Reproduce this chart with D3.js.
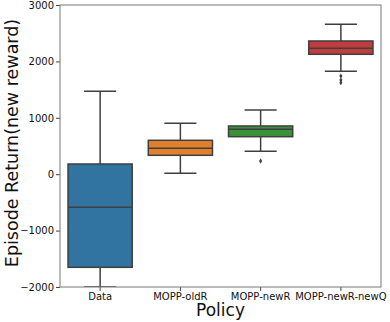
<!DOCTYPE html>
<html>
<head>
<meta charset="utf-8">
<script src="https://cdn.jsdelivr.net/npm/d3@7"></script>
<style>
  body { margin: 0; background: #fff; }
  text { font-family: "DejaVu Sans", sans-serif; }
</style>
</head>
<body>
<div id="chart"></div>
<script>
// box statistics
var categories = ["Data", "MOPP-oldR", "MOPP-newR", "MOPP-newR-newQ"];
var whiskerLow = [-2000, 16, 406, 1824];
var q1 = [-1651, 335, 665, 2126];
var median = [-587, 459, 796, 2232];
var q3 = [181, 601, 855, 2362];
var whiskerHigh = [1470, 902, 1138, 2658];
var outliers = [[], [], [234], [1741, 1670, 1622]];
var colors = ["#3274a1", "#e1812c", "#3a923a", "#c03d3e"];
var yTicks = [-2000, -1000, 0, 1000, 2000, 3000];

var W = 390, H = 322;
var margin = {top: 5, right: 9, bottom: 35, left: 60};
var width = W - margin.left - margin.right;
var height = H - margin.top - margin.bottom;
var lineColor = "#3f3f3f";

var svg = d3.select("#chart").append("svg")
  .attr("width", W).attr("height", H);

var g = svg.append("g")
  .attr("transform", "translate(" + margin.left + "," + margin.top + ")");

var x = d3.scaleBand().domain(categories).range([0, width]).paddingInner(0).paddingOuter(0);
var y = d3.scaleLinear().domain([-2000, 3000]).range([height, 0]);

g.append("clipPath").attr("id", "clip")
  .append("rect").attr("width", width).attr("height", height);

var boxes = g.append("g").attr("clip-path", "url(#clip)")
  .selectAll("g.box")
  .data(categories.map(function (c, i) {
    return {cat: c, lo: whiskerLow[i], q1: q1[i], med: median[i], q3: q3[i], hi: whiskerHigh[i], out: outliers[i], color: colors[i]};
  }))
  .enter().append("g").attr("class", "box")
  .attr("transform", function (d) { return "translate(" + (x(d.cat) + x.bandwidth() / 2) + ",0)"; });

var bw = x.bandwidth() * 0.8;

// whiskers
boxes.append("line")
  .attr("x1", 0).attr("x2", 0)
  .attr("y1", function (d) { return y(d.hi); }).attr("y2", function (d) { return y(d.q3); })
  .attr("stroke", lineColor).attr("stroke-width", 1.5);
boxes.append("line")
  .attr("x1", 0).attr("x2", 0)
  .attr("y1", function (d) { return y(d.q1); }).attr("y2", function (d) { return y(d.lo); })
  .attr("stroke", lineColor).attr("stroke-width", 1.5);
// caps
boxes.selectAll("line.cap")
  .data(function (d) { return [d.lo, d.hi]; })
  .enter().append("line").attr("class", "cap")
  .attr("x1", -bw / 4).attr("x2", bw / 4)
  .attr("y1", function (v) { return y(v); }).attr("y2", function (v) { return y(v); })
  .attr("stroke", lineColor).attr("stroke-width", 1.5);

// box
boxes.append("rect")
  .attr("x", -bw / 2).attr("width", bw)
  .attr("y", function (d) { return y(d.q3); })
  .attr("height", function (d) { return y(d.q1) - y(d.q3); })
  .attr("fill", function (d) { return d.color; })
  .attr("stroke", lineColor).attr("stroke-width", 1.5);

// median
boxes.append("line")
  .attr("x1", -bw / 2).attr("x2", bw / 2)
  .attr("y1", function (d) { return y(d.med); }).attr("y2", function (d) { return y(d.med); })
  .attr("stroke", lineColor).attr("stroke-width", 1.5);

// outliers (diamonds)
boxes.selectAll("path.flier")
  .data(function (d) { return d.out; })
  .enter().append("path").attr("class", "flier")
  .attr("d", d3.symbol().type(d3.symbolDiamond).size(8))
  .attr("transform", function (v) { return "translate(0," + y(v) + ")"; })
  .attr("fill", lineColor);

// axes
var yAxis = g.append("g")
  .call(d3.axisLeft(y).tickValues(yTicks).tickSize(4).tickPadding(2).tickFormat(d3.format("d")));
var xAxis = g.append("g")
  .attr("transform", "translate(0," + height + ")")
  .call(d3.axisBottom(x).tickSize(4).tickPadding(2));

[yAxis, xAxis].forEach(function (a) {
  a.select(".domain").remove();
  a.selectAll(".tick line").attr("stroke", "#444");
  a.selectAll(".tick text").attr("font-size", 10).attr("fill", "#111")
    .style("font-family", "DejaVu Sans, sans-serif");
});
yAxis.selectAll(".tick text").text(function (d) { return d < 0 ? "\u2212" + Math.abs(d) : d; });

// frame
g.append("rect").attr("width", width).attr("height", height)
  .attr("fill", "none").attr("stroke", "#777").attr("stroke-width", 1);

// labels
svg.append("text")
  .attr("transform", "translate(12,143) rotate(-90)")
  .attr("text-anchor", "middle").attr("dominant-baseline", "central")
  .attr("font-size", 17.5).attr("fill", "#111")
  .text("Episode Return(new reward)");

svg.append("text")
  .attr("x", margin.left + width / 2).attr("y", 316)
  .attr("text-anchor", "middle")
  .attr("font-size", 17).attr("fill", "#111")
  .text("Policy");
</script>
</body>
</html>
